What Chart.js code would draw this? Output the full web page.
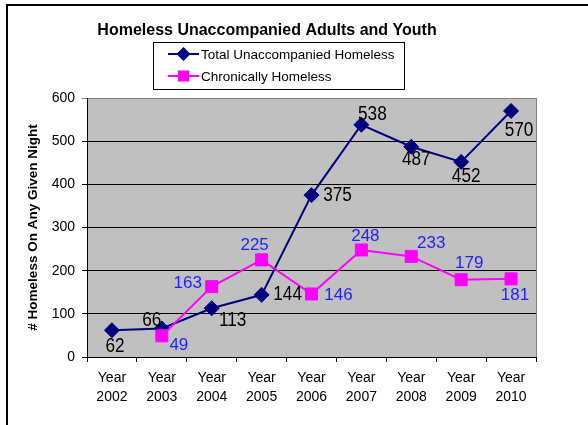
<!DOCTYPE html>
<html>
<head>
<meta charset="utf-8">
<script src="https://cdn.jsdelivr.net/npm/chart.js@4.4.1/dist/chart.umd.min.js"></script>
<style>
  html, body { margin: 0; padding: 0; background: #fff; }
  canvas { display: block; }
</style>
</head>
<body>
<canvas id="chart" width="588" height="425"></canvas>
<script>
const YEARS = ['2002', '2003', '2004', '2005', '2006', '2007', '2008', '2009', '2010'];
const TOTAL_HOMELESS = [62, 66, 113, 144, 375, 538, 487, 452, 570];
const CHRONIC_HOMELESS = [null, 49, 163, 225, 146, 248, 233, 179, 181];
const Y_TICKS = [0, 100, 200, 300, 400, 500, 600];

// where each value label sits relative to its point (px)
const TOTAL_LABEL_OFFSETS = [[3,16],[-10,-8],[21,12],[26,0],[26,0],[11,-10],[5,13],[5,15],[8,20]];
const CHRONIC_LABEL_OFFSETS = [null,[17,9],[-24,-3],[-7,-15],[27,1],[4,-14],[20,-13],[8,-16],[4,16]];

const FONT = "'Liberation Sans', Arial, sans-serif";

const plotBg = {
  id: 'plotBg',
  beforeDraw(chart) {
    const { ctx, chartArea: a } = chart;
    ctx.save();
    ctx.fillStyle = '#c0c0c0';
    ctx.fillRect(a.left, a.top, a.right - a.left, a.bottom - a.top);
    // outer frame
    ctx.strokeStyle = '#000';
    ctx.lineWidth = 2;
    ctx.beginPath();
    ctx.moveTo(7, 425);
    ctx.lineTo(7, 5);
    ctx.lineTo(588, 5);
    ctx.stroke();
    ctx.restore();
  },
  beforeDatasetsDraw(chart) {
    const { ctx, chartArea: a } = chart;
    ctx.save();
    ctx.strokeStyle = '#808080';
    ctx.lineWidth = 1;
    ctx.beginPath();
    ctx.moveTo(Math.round(a.right) + 0.5, a.top);
    ctx.lineTo(Math.round(a.right) + 0.5, a.bottom);
    ctx.stroke();
    ctx.restore();
  }
};

const headerAndLabels = {
  id: 'headerAndLabels',
  afterDatasetsDraw(chart) {
    const ctx = chart.ctx;
    ctx.save();
    ctx.textAlign = 'center';
    ctx.textBaseline = 'middle';
    // total series labels, narrow black
    chart.getDatasetMeta(0).data.forEach((pt, i) => {
      const off = TOTAL_LABEL_OFFSETS[i];
      ctx.save();
      ctx.translate(pt.x + off[0], pt.y + off[1]);
      ctx.scale(0.86, 1);
      ctx.font = '20px ' + FONT;
      ctx.fillStyle = '#000';
      ctx.fillText(String(TOTAL_HOMELESS[i]), 0, 0);
      ctx.restore();
    });
    chart.getDatasetMeta(1).data.forEach((pt, i) => {
      const off = CHRONIC_LABEL_OFFSETS[i];
      if (!off || CHRONIC_HOMELESS[i] == null) return;
      ctx.font = '17px ' + FONT;
      ctx.fillStyle = '#1f1fff';
      ctx.fillText(String(CHRONIC_HOMELESS[i]), pt.x + off[0], pt.y + off[1]);
    });
    ctx.restore();
  },
  afterDraw(chart) {
    const ctx = chart.ctx;
    ctx.save();
    ctx.fillStyle = '#000';
    ctx.textAlign = 'center';
    ctx.textBaseline = 'middle';
    ctx.font = 'bold 16px ' + FONT;
    ctx.fillText('Homeless Unaccompanied Adults and Youth', 267, 31);

    // legend box
    ctx.strokeStyle = '#000';
    ctx.lineWidth = 1;
    ctx.strokeRect(153.5, 42.5, 251, 47);
    ctx.textAlign = 'left';
    ctx.font = '13.5px ' + FONT;
    const rows = [54, 76];
    chart.data.datasets.forEach((ds, i) => {
      const y = rows[i];
      ctx.strokeStyle = ds.borderColor;
      ctx.lineWidth = 2;
      ctx.beginPath();
      ctx.moveTo(168, y);
      ctx.lineTo(199, y);
      ctx.stroke();
      ctx.fillStyle = ds.pointBackgroundColor;
      ctx.strokeStyle = ds.pointBorderColor;
      Chart.helpers.drawPoint(ctx, { pointStyle: ds.pointStyle, radius: ds.pointRadius * 0.75, borderWidth: 1, rotation: 0 }, 183.5, y);
      ctx.fillStyle = '#000';
      ctx.fillText(ds.label, 201, y + 1);
    });
    ctx.restore();
  }
};

new Chart(document.getElementById('chart'), {
  type: 'line',
  data: {
    labels: YEARS.map(y => ['Year', y]),
    datasets: [
      {
        label: 'Total Unaccompanied Homeless',
        data: TOTAL_HOMELESS,
        order: 1,
        borderColor: '#000080',
        backgroundColor: '#000080',
        pointBackgroundColor: '#000080',
        pointBorderColor: '#000080',
        borderWidth: 2,
        pointStyle: 'rectRot',
        pointRadius: 7.5,
        pointBorderWidth: 1,
        tension: 0
      },
      {
        label: 'Chronically Homeless',
        data: CHRONIC_HOMELESS,
        order: 0,
        borderColor: '#ff00ff',
        backgroundColor: '#ff00ff',
        pointBackgroundColor: '#ff00ff',
        pointBorderColor: '#ff00ff',
        borderWidth: 2,
        pointStyle: 'rect',
        pointRadius: 8.5,
        pointBorderWidth: 1,
        tension: 0
      }
    ]
  },
  options: {
    responsive: false,
    animation: false,
    layout: { padding: { top: 98, right: 52, left: 21, bottom: 0 } },
    plugins: {
      legend: { display: false },
      tooltip: { enabled: false },
      title: { display: false }
    },
    scales: {
      x: {
        type: 'category',
        offset: true,
        afterFit: s => { s.height = 68; },
        grid: { offset: true, drawOnChartArea: false, tickLength: 5, color: '#000' },
        border: { color: '#000' },
        ticks: { color: '#000', font: { family: FONT, size: 14, lineHeight: 1.35 }, padding: 7, maxRotation: 0, autoSkip: false }
      },
      y: {
        min: Y_TICKS[0],
        max: Y_TICKS[Y_TICKS.length - 1],
        afterFit: s => { s.width = 66; },
        afterBuildTicks: s => { s.ticks = Y_TICKS.map(v => ({ value: v })); },
        grid: {
          tickLength: 5,
          color: c => (c.tick && c.tick.value === 600 ? '#808080' : '#000')
        },
        border: { color: '#000' },
        ticks: { color: '#000', font: { family: FONT, size: 14 }, padding: 7 },
        title: {
          display: true,
          text: '# Homeless On Any Given Night',
          color: '#000',
          font: { family: FONT, size: 13.5, weight: 'bold' },
          padding: { top: 4, bottom: 4 }
        }
      }
    }
  },
  plugins: [plotBg, headerAndLabels]
});
</script>
</body>
</html>
